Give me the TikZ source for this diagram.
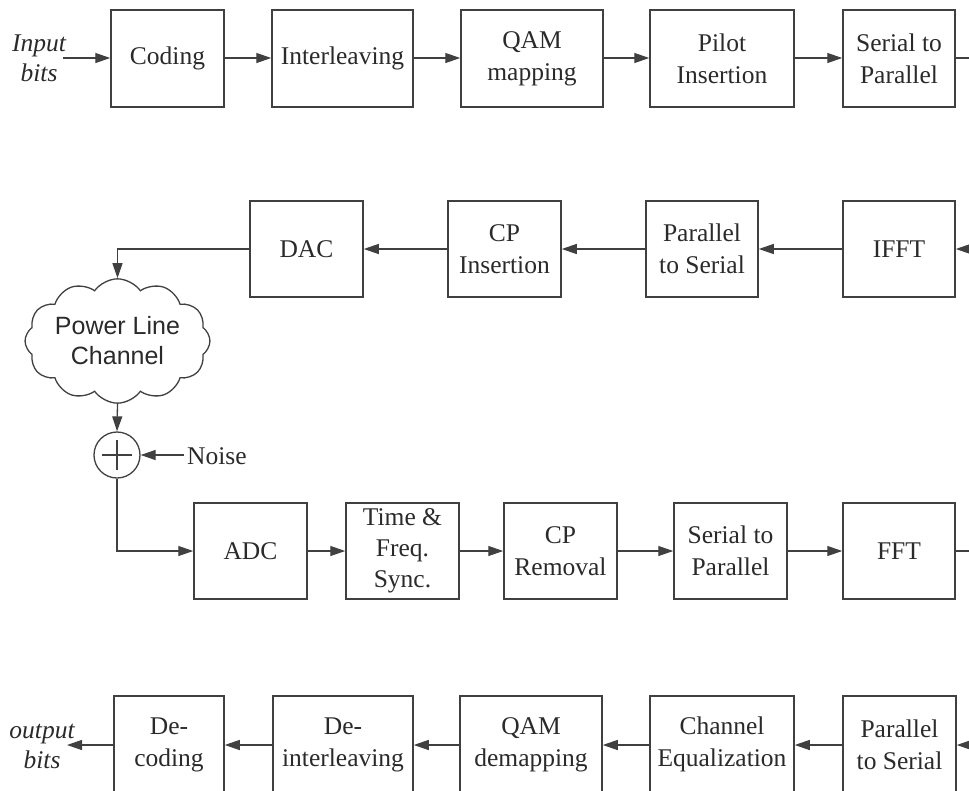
\documentclass[tikz,border=0pt]{standalone}
\usepackage{fontspec}
\setmainfont{Liberation Serif}
\setsansfont{Liberation Sans}
\usetikzlibrary{arrows.meta,shapes.symbols}
\definecolor{ln}{HTML}{404040}
\definecolor{tx}{HTML}{2A2A2A}
\begin{document}
\begin{tikzpicture}[x=1pt,y=-1pt,
  blk/.style={draw=ln,line width=1.5pt,align=center,inner sep=0pt,text=tx,
    font=\fontsize{25.5}{32}\selectfont},
  lbl/.style={align=center,text=tx,font=\fontsize{25.5}{30}\selectfont\itshape,inner sep=0pt},
  arr/.style={draw=ln,line width=1.3pt,-{Triangle[length=15pt,width=10pt]}},
  ln/.style={draw=ln,line width=1.3pt}]
\useasboundingbox (0,0) rectangle (969,790);
% row 1
\node[blk,minimum width=113,minimum height=97] (coding) at (167.5,58.5) {Coding};
\node[blk,minimum width=141,minimum height=97] (inter) at (342.5,58.5) {Interleaving};
\node[blk,minimum width=142,minimum height=97] (qam) at (532,58.5) {QAM\\mapping};
\node[blk,minimum width=144,minimum height=97] (pilot) at (722,58.5) {Pilot\\Insertion};
\node[blk,minimum width=112,minimum height=97] (sp1) at (899,58.5) {Serial to\\Parallel};
% row 2
\node[blk,minimum width=113,minimum height=96] (dac) at (306.5,249) {DAC};
\node[blk,minimum width=113,minimum height=96] (cpins) at (504.5,249) {CP\\Insertion};
\node[blk,minimum width=112,minimum height=96] (ps1) at (702,249) {Parallel\\to Serial};
\node[blk,minimum width=112,minimum height=96] (ifft) at (899,249) {IFFT};
% row 3
\node[blk,minimum width=113,minimum height=96] (adc) at (250.5,551) {ADC};
\node[blk,minimum width=113,minimum height=96,font=\fontsize{25.5}{31}\selectfont] (tfs) at (402.5,551) {Time \&\\Freq.\\Sync.};
\node[blk,minimum width=113,minimum height=96] (cprem) at (560.5,551) {CP\\Removal};
\node[blk,minimum width=113,minimum height=96] (sp2) at (730.5,551) {Serial to\\Parallel};
\node[blk,minimum width=112,minimum height=96] (fft) at (899,551) {FFT};
% row 4
\node[blk,minimum width=110,minimum height=97] (dec) at (169,744.5) {De-\\coding};
\node[blk,minimum width=140,minimum height=97] (deint) at (343,744.5) {De-\\interleaving};
\node[blk,minimum width=142,minimum height=97] (qamd) at (531,744.5) {QAM\\demapping};
\node[blk,minimum width=144,minimum height=97] (cheq) at (722,744.5) {Channel\\Equalization};
\node[blk,minimum width=113,minimum height=97] (ps2) at (899.5,744.5) {Parallel\\to Serial};
% labels
\node[lbl] (inb) at (39,58) {Input\\bits};
\node[lbl] (outb) at (42,746) {output\\bits};
\coordinate (inS) at (63,58);
\coordinate (outE) at (67,745);
\coordinate (e1) at (969,58);
\coordinate (e2) at (969,249);
\coordinate (e3) at (969,551);
\coordinate (e4) at (969,745);
% cloud, sum, noise
\node[cloud,draw=ln,line width=1.3pt,cloud puffs=12,cloud puff arc=110,aspect=1.7,
  minimum width=152,minimum height=88,inner sep=0pt,align=center,text=tx,
  font=\sffamily\fontsize{25}{30}\selectfont] (ch) at (117.5,341) {Power Line\\Channel};
\node[circle,draw=ln,line width=1.3pt,minimum size=46,inner sep=0pt] (sum) at (117,455) {};
\draw[ln] ([xshift=-15pt]sum.center) -- ([xshift=15pt]sum.center);
\draw[ln] ([yshift=-15pt]sum.center) -- ([yshift=15pt]sum.center);
\node[anchor=west,text=tx,font=\fontsize{25.5}{30}\selectfont,inner sep=3pt] (noise) at (184,456) {Noise};
% connectors row 1
\draw[arr] (inS) -- (coding.west |- inS);
\draw[arr] (coding.east |- inS) -- (inter.west |- inS);
\draw[arr] (inter.east |- inS) -- (qam.west |- inS);
\draw[arr] (qam.east |- inS) -- (pilot.west |- inS);
\draw[arr] (pilot.east |- inS) -- (sp1.west |- inS);
\draw[ln] (sp1.east |- inS) -- (e1);
% row 2
\draw[arr] (e2) -- (ifft.east);
\draw[arr] (ifft.west) -- (ps1.east);
\draw[arr] (ps1.west) -- (cpins.east);
\draw[arr] (cpins.west) -- (dac.east);
\draw[arr] (dac.west) -| (ch.north);
\draw[arr] (ch.south) -- (sum.north);
\draw[arr] (noise.west |- sum.east) -- (sum.east);
\draw[arr] (sum.south) |- (adc.west);
% row 3
\draw[arr] (adc.east) -- (tfs.west);
\draw[arr] (tfs.east) -- (cprem.west);
\draw[arr] (cprem.east) -- (sp2.west);
\draw[arr] (sp2.east) -- (fft.west);
\draw[ln] (fft.east) -- (e3);
% row 4
\draw[arr] (e4) -- (ps2.east |- e4);
\draw[arr] (ps2.west |- e4) -- (cheq.east |- e4);
\draw[arr] (cheq.west |- e4) -- (qamd.east |- e4);
\draw[arr] (qamd.west |- e4) -- (deint.east |- e4);
\draw[arr] (deint.west |- e4) -- (dec.east |- e4);
\draw[arr] (dec.west |- e4) -- (outE);
\end{tikzpicture}
\end{document}
